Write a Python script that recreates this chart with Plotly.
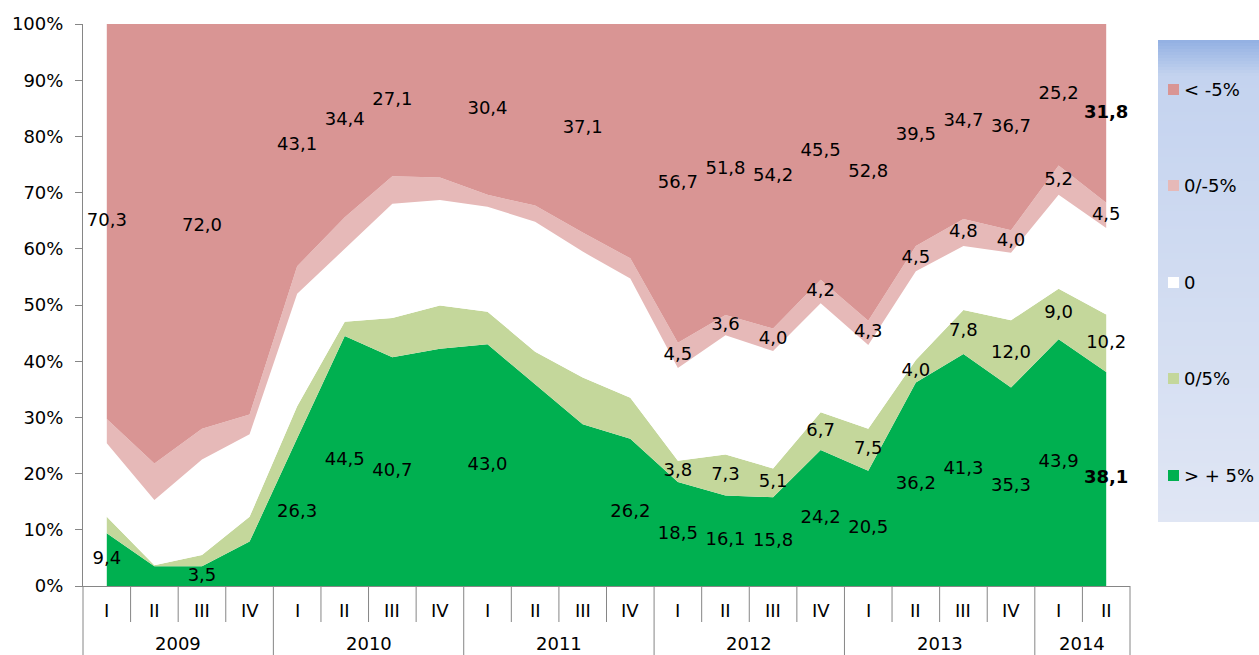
import plotly.graph_objects as go

# ---- data -------------------------------------------------------------
quarters = ["I", "II", "III", "IV", "I", "II", "III", "IV", "I", "II", "III", "IV",
            "I", "II", "III", "IV", "I", "II", "III", "IV", "I", "II"]
years = ["2009", "2010", "2011", "2012", "2013", "2014"]
quarters_per_year = [4, 4, 4, 4, 4, 2]

series_names = ["> + 5%", "0/5%", "0", "0/-5%", "< -5%"]
above_5 = [9.4, 3.5, 3.5, 7.9, 26.3, 44.5, 40.7, 42.2, 43.0, 35.9, 28.8, 26.2,
           18.5, 16.1, 15.8, 24.2, 20.5, 36.2, 41.3, 35.3, 43.9, 38.1]
zero_to_5 = [2.9, 0.2, 2.0, 4.4, 5.7, 2.5, 7.0, 7.7, 5.8, 5.8, 8.3, 7.3,
             3.8, 7.3, 5.1, 6.7, 7.5, 4.0, 7.8, 12.0, 9.0, 10.2]
unchanged = [13.1, 11.6, 17.0, 14.7, 20.0, 13.0, 20.3, 18.8, 18.7, 23.1, 22.4, 21.2,
             16.5, 21.2, 20.9, 19.4, 14.9, 15.8, 11.4, 12.0, 16.7, 15.4]
zero_to_minus5 = [4.3, 6.5, 5.5, 3.5, 4.9, 5.6, 4.9, 4.0, 2.1, 2.9, 3.4, 3.6,
                  4.5, 3.6, 4.0, 4.2, 4.3, 4.5, 4.8, 4.0, 5.2, 4.5]
below_minus5 = [70.3, 78.2, 72.0, 69.5, 43.1, 34.4, 27.1, 27.3, 30.4, 32.3, 37.1, 41.7,
                56.7, 51.8, 54.2, 45.5, 52.8, 39.5, 34.7, 36.7, 25.2, 31.8]

# which quarters carry a printed value, per series
shown_above_5 = [1, 0, 1, 0, 1, 1, 1, 0, 1, 0, 0, 1, 1, 1, 1, 1, 1, 1, 1, 1, 1, 1]
shown_zero_to_5 = [0] * 12 + [1] * 10
shown_unchanged = [0] * 22
shown_zero_to_minus5 = [0] * 12 + [1] * 10
shown_below_minus5 = [1, 0, 1, 0, 1, 1, 1, 0, 1, 0, 1, 0, 1, 1, 1, 1, 1, 1, 1, 1, 1, 1]

series_values = [above_5, zero_to_5, unchanged, zero_to_minus5, below_minus5]
series_shown = [shown_above_5, shown_zero_to_5, shown_unchanged,
                shown_zero_to_minus5, shown_below_minus5]
series_bold_last = [True, False, False, False, True]
series_colors = ["#00B050", "#C4D79B", "#FFFFFF", "#E6B9B8", "#D99594"]

# ---- layout geometry --------------------------------------------------
W, H = 1259, 655
ML, MR, MT, MB = 83, 129, 24, 69
PW, PH = W - ML - MR, H - MT - MB
FONT = "DejaVu Sans"
AXIS_GREY = "#868686"
n = len(quarters)
xs = list(range(n))
x_range = [-0.5, n - 0.5]


def px_x(p):
    return (p - ML) / PW


def px_y(p):
    return (H - MB - p) / PH


def data_x_to_paper(v):
    return (v - x_range[0]) / (x_range[1] - x_range[0])


def fmt(v):
    return f"{v:.1f}".replace(".", ",")


fig = go.Figure()

# stacked areas
for name, vals, col in zip(series_names, series_values, series_colors):
    fig.add_trace(go.Scatter(
        x=xs, y=vals, name=name, mode="lines", stackgroup="share",
        line=dict(width=0, color=col), fillcolor=col,
        hoverinfo="skip", showlegend=False,
    ))

# value labels at the middle of each band
base = [0.0] * n
for vals, shown, bold in zip(series_values, series_shown, series_bold_last):
    lx, ly, lt = [], [], []
    for i, v in enumerate(vals):
        if shown[i]:
            txt = fmt(v)
            if bold and i == n - 1:
                txt = f"<b>{txt}</b>"
            lx.append(i)
            ly.append(base[i] + v / 2)
            lt.append(txt)
        base[i] += v
    fig.add_trace(go.Scatter(
        x=lx, y=ly, text=lt, mode="text", textposition="middle center",
        textfont=dict(family=FONT, size=18, color="#000000"),
        hoverinfo="skip", showlegend=False, cliponaxis=False,
    ))

shapes = []
annotations = []

# category separators: quarter ticks and longer year dividers
year_edges = [0]
for c in quarters_per_year:
    year_edges.append(year_edges[-1] + c)
for b in range(n + 1):
    xp = data_x_to_paper(b - 0.5)
    y_end = px_y(H + 5) if b in year_edges else px_y(622)
    shapes.append(dict(type="line", xref="paper", yref="paper",
                       x0=xp, x1=xp, y0=0, y1=y_end,
                       line=dict(color=AXIS_GREY, width=1)))

for i, q in enumerate(quarters):
    annotations.append(dict(x=i, y=px_y(610), xref="x", yref="paper", text=q,
                            showarrow=False, yanchor="middle",
                            font=dict(family=FONT, size=18, color="#000000")))
for k, yr in enumerate(years):
    mid = year_edges[k] + (quarters_per_year[k] - 1) / 2
    annotations.append(dict(x=mid, y=px_y(643), xref="x", yref="paper", text=yr,
                            showarrow=False, yanchor="middle",
                            font=dict(family=FONT, size=18, color="#000000")))

# legend panel with a vertical blue gradient
top_c, mid_c, bot_c = (146, 176, 226), (196, 211, 239), (224, 230, 244)
y_top, y_mid, y_bot = 40, 76, 522
step = 3
y = y_top
while y < y_bot:
    yc = y + step / 2
    if yc < y_mid:
        t = (yc - y_top) / (y_mid - y_top)
        c0, c1 = top_c, mid_c
    else:
        t = (yc - y_mid) / (y_bot - y_mid)
        c0, c1 = mid_c, bot_c
    rgb = tuple(round(a + (b - a) * t) for a, b in zip(c0, c1))
    shapes.append(dict(type="rect", xref="paper", yref="paper",
                       x0=px_x(1158), x1=px_x(W + 5),
                       y0=px_y(min(y + step + 0.5, y_bot)), y1=px_y(y),
                       line=dict(width=0), fillcolor=f"rgb{rgb}", layer="below"))
    y += step

legend_rows = [89.5, 185.5, 282.5, 378.5, 475.5]
for name, col, yc in zip(series_names[::-1], series_colors[::-1], legend_rows):
    shapes.append(dict(type="rect", xref="paper", yref="paper",
                       x0=px_x(1168), x1=px_x(1179),
                       y0=px_y(yc + 5.5), y1=px_y(yc - 5.5),
                       line=dict(width=0), fillcolor=col))
    annotations.append(dict(x=px_x(1182), y=px_y(yc), xref="paper", yref="paper",
                            text=name, showarrow=False, xanchor="left",
                            yanchor="middle",
                            font=dict(family=FONT, size=18, color="#000000")))

fig.update_layout(
    width=W, height=H,
    margin=dict(l=ML, r=MR, t=MT, b=MB, pad=0),
    paper_bgcolor="#FFFFFF", plot_bgcolor="#FFFFFF",
    font=dict(family=FONT, size=18, color="#000000"),
    shapes=shapes, annotations=annotations,
    showlegend=False, hovermode=False,
    xaxis=dict(range=x_range, showticklabels=False, ticks="", showgrid=False,
               zeroline=False, showline=True, linecolor=AXIS_GREY, linewidth=1,
               fixedrange=True),
    yaxis=dict(range=[0, 100], tickvals=list(range(0, 101, 10)),
               ticktext=[f"{v}%" for v in range(0, 101, 10)],
               ticks="outside", ticklen=7, tickcolor=AXIS_GREY, tickwidth=1,
               showgrid=False, zeroline=False, showline=True,
               linecolor=AXIS_GREY, linewidth=1, ticklabelstandoff=8,
               tickfont=dict(family=FONT, size=18, color="#000000"),
               fixedrange=True),
)

fig.write_html("out.html")
